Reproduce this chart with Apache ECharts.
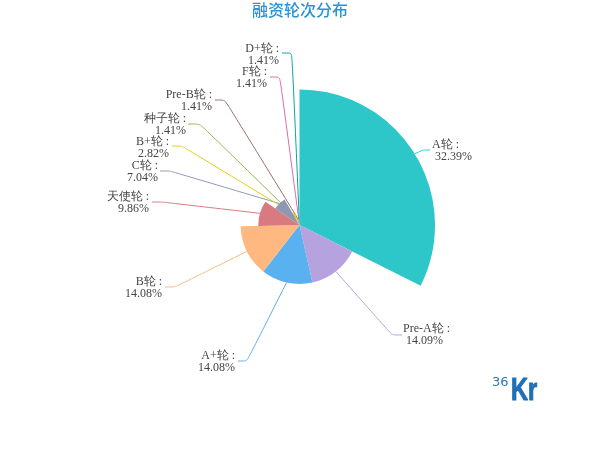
<!doctype html>
<html>

<head>
    <meta charset="utf-8">
    <script src="https://cdn.jsdelivr.net/npm/echarts@6/dist/echarts.min.js"></script>
    <style>
        html, body { margin: 0; padding: 0; background: #fff; }
        #chart { width: 600px; height: 449px; }
    </style>
</head>

<body>
    <div id="chart"></div>
    <script type="text/javascript">
        var categories = ['A轮', 'Pre-A轮', 'A+轮', 'B轮', '天使轮', 'C轮', 'B+轮', '种子轮', 'Pre-B轮', 'F轮', 'D+轮'];
        var values = [32.39, 14.09, 14.08, 14.08, 9.86, 7.04, 2.82, 1.41, 1.41, 1.41, 1.41];
        var colors = ['#2ec7c9', '#b6a2de', '#5ab1ef', '#ffb980', '#d87a80', '#8d98b3', '#e5cf0d', '#97b552', '#95706d', '#dc69aa', '#07a2a4'];

        // label placement: text x, text y, leader corner x, leader end x, leader y
        var labelSpots = [
            [432, 151, 423, 430, 150],
            [403, 335, 392, 402, 335],
            [235, 362, 247, 238, 361],
            [162, 288, 175, 165, 287],
            [149, 203, 162, 152, 202],
            [158, 172, 170, 160, 171],
            [169, 148, 182, 172, 146],
            [186, 125, 200, 188, 124],
            [212, 101, 225, 215, 100],
            [267, 78, 280, 270, 77],
            [279, 55, 292, 282, 53]
        ];

        var chart = echarts.init(document.getElementById('chart'));
        chart.setOption({
            animation: false,
            color: colors,
            title: {
                text: '融资轮次分布',
                left: 'center',
                top: -3,
                textStyle: { color: '#2a93d5', fontSize: 16, fontWeight: 500, fontFamily: 'Noto Sans CJK SC' }
            },
            graphic: [
                { type: 'text', left: 492, top: 376, style: { text: '36', fontSize: 13, fontFamily: 'DejaVu Sans', fill: '#2a78b8' } },
                { type: 'text', x: 511, y: 375, scaleX: 0.74, style: { text: 'Kr', fontSize: 32, fontWeight: 'bold', fontFamily: 'Liberation Sans', fill: '#1f6fb8', stroke: '#1f6fb8', lineWidth: 1 } }
            ],
            series: [{
                type: 'pie',
                roseType: 'radius',
                center: [299.5, 225],
                radius: [0, 135.5],
                startAngle: 90,
                data: categories.map(function (name, i) {
                    return { name: name, value: values[i] };
                }),
                label: {
                    formatter: function (p) {
                        var pct = p.value.toFixed(2) + '%';
                        return p.name + ' :\n' + (p.dataIndex < 2 ? ' ' : '') + pct;
                    },
                    fontFamily: 'Liberation Serif',
                    fontSize: 12,
                    lineHeight: 12,
                    color: '#444'
                },
                labelLine: { length: 20, length2: 10, smooth: 0.2, lineStyle: { width: 1 } },
                labelLayout: function (p) {
                    var s = labelSpots[p.dataIndex];
                    return {
                        x: s[0],
                        y: s[1],
                        align: p.dataIndex < 2 ? 'left' : 'right',
                        verticalAlign: 'middle',
                        labelLinePoints: [p.labelLinePoints[0], [s[2], s[4]], [s[3], s[4]]]
                    };
                }
            }]
        });
    </script>
</body>

</html>
